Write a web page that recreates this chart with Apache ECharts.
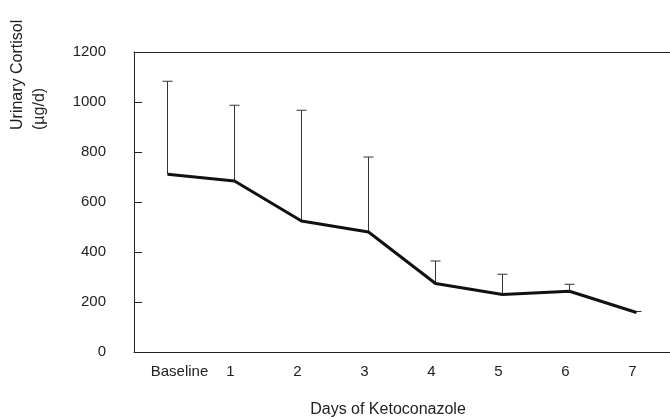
<!DOCTYPE html>
<html>
<head>
<meta charset="utf-8">
<script src="https://cdn.jsdelivr.net/npm/echarts@6/dist/echarts.min.js"></script>
<style>
  html, body { margin: 0; padding: 0; background: #fff; }
  #chart { width: 670px; height: 417px; }
</style>
</head>
<body>
<div id="chart"></div>
<script>
const days = ["Baseline", "1", "2", "3", "4", "5", "6", "7"];
const meanCortisol = [711, 684, 524, 480, 274, 230, 243, 158];
const upperError = [1083, 987, 967, 780, 364, 311, 271, 162];
const yTicks = [0, 200, 400, 600, 800, 1000, 1200];

const chart = echarts.init(document.getElementById("chart"));
const font = "Liberation Sans, Arial, sans-serif";
const ink = "#222";

// small nudges so the day labels sit where the original put them
const labelData = days.map((d, i) => ({
    value: d,
    textStyle: i === 0 ? {padding: [0, 0, 0, 24]} : {padding: [0, 8, 0, 0]}
}));

const option = {
    animation: false,
    grid: {left: 134, top: 52, width: 544, height: 300},
    xAxis: [
        {
            type: "category",
            data: labelData,
            boundaryGap: true,
            axisLine: {lineStyle: {color: ink, width: 1}},
            axisTick: {show: false},
            axisLabel: {color: ink, fontFamily: font, fontSize: 15, margin: 12,
                interval: 0, hideOverlap: false}
        },
        {
            type: "category",
            data: days,
            position: "top",
            axisLine: {lineStyle: {color: ink, width: 1}},
            axisTick: {show: false},
            axisLabel: {show: false}
        }
    ],
    yAxis: {
        type: "value",
        min: yTicks[0],
        max: yTicks[yTicks.length - 1],
        interval: 200,
        axisLine: {show: true, lineStyle: {color: ink, width: 1}},
        axisTick: {show: true, inside: true, length: 8, lineStyle: {color: ink}},
        axisLabel: {color: ink, fontFamily: font, fontSize: 15, margin: 28,
            formatter: (v) => String(v)},
        splitLine: {show: false}
    },
    graphic: [
        {
            type: "text",
            x: 18, y: 130, rotation: Math.PI / 2,
            style: {text: "Urinary Cortisol", fill: ink, font: "16px " + font,
                textAlign: "left", textVerticalAlign: "middle"}
        },
        {
            type: "text",
            x: 40, y: 130, rotation: Math.PI / 2,
            style: {text: "(µg/d)", fill: ink, font: "16px " + font,
                textAlign: "left", textVerticalAlign: "middle"}
        },
        {
            type: "text",
            x: 388, y: 410,
            style: {text: "Days of Ketoconazole", fill: ink, font: "16px " + font,
                textAlign: "center", textVerticalAlign: "middle"}
        }
    ],
    series: [
        {
            type: "custom",
            data: days.map((d, i) => [i, meanCortisol[i], upperError[i]]),
            renderItem: (params, api) => {
                const base = api.coord([api.value(0), api.value(1)]);
                const top = api.coord([api.value(0), api.value(2)]);
                const style = {stroke: "#333", lineWidth: 1};
                return {
                    type: "group",
                    children: [
                        {type: "line", shape: {x1: base[0], y1: base[1], x2: top[0], y2: top[1]}, style},
                        {type: "line", shape: {x1: top[0] - 5, y1: top[1], x2: top[0] + 5, y2: top[1]}, style}
                    ]
                };
            },
            z: 1
        },
        {
            type: "line",
            data: meanCortisol,
            symbol: "none",
            lineStyle: {color: "#111", width: 3},
            z: 2
        }
    ]
};

chart.setOption(option);
</script>
</body>
</html>
